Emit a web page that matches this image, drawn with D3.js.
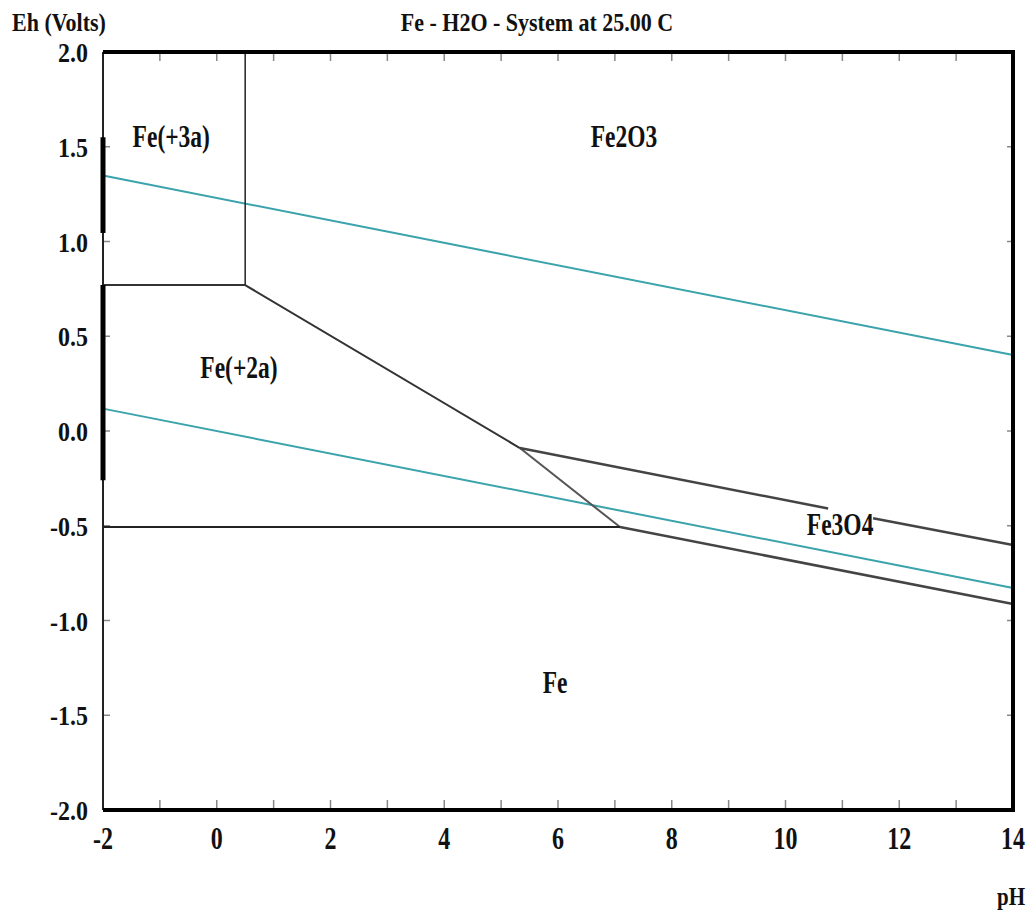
<!DOCTYPE html>
<html>
<head>
<meta charset="utf-8">
<script src="https://cdn.jsdelivr.net/npm/d3@7"></script>
<style>
  html, body { margin: 0; padding: 0; background: #fff; }
  text { font-family: "Liberation Serif", "Times New Roman", serif; font-weight: bold; fill: #111; }
</style>
</head>
<body>
<div id="chart"></div>
<script>
// axis ticks
var phTicks = [-2, 0, 2, 4, 6, 8, 10, 12, 14];
var phMinor = [-1, 0, 1, 2, 3, 4, 5, 6, 7, 8, 9, 10, 11, 12, 13];
var ehTicks = ["2.0", "1.5", "1.0", "0.5", "0.0", "-0.5", "-1.0", "-1.5", "-2.0"];

// water stability lines (pH, Eh)
var waterUpper = [[-2, 1.348], [14, 0.401]];
var waterLower = [[-2, 0.118], [14, -0.829]];

// phase boundaries (pH, Eh)
var fe3Fe2 = [[-2, 0.77], [0.5, 0.77]];
var fe3Fe2o3 = [[0.5, 0.77], [0.5, 2.0]];
var fe2Fe2o3 = [[0.5, 0.77], [5.33, -0.09]];
var fe2Fe3o4 = [[5.33, -0.09], [7.09, -0.507]];
var fe2Fe = [[-2, -0.507], [7.09, -0.507]];
var fe2o3Fe3o4a = [[5.33, -0.09], [10.75, -0.409]];
var fe2o3Fe3o4b = [[11.54, -0.46], [14, -0.602]];
var fe3o4Fe = [[7.09, -0.507], [14, -0.913]];

// heavy marks on the left axis (Eh ranges)
var axisBars = [[1.55, 1.045], [0.77, -0.26]];

// field labels
var fieldNames = ["Fe(+3a)", "Fe2O3", "Fe(+2a)", "Fe3O4", "Fe"];
var fieldPH = [-0.8, 7.16, 0.39, 10.96, 5.95];
var fieldEh = [1.5, 1.5, 0.28, -0.55, -1.38];

var W = 1032, H = 913;
var margin = { left: 103, right: 19, top: 52, bottom: 103 };
var w = W - margin.left - margin.right,
    h = H - margin.top - margin.bottom;

var svg = d3.select('#chart').append('svg')
    .attr('width', W)
    .attr('height', H);

var x = d3.scaleLinear().domain([-2, 14]).range([margin.left, margin.left + w]);
var y = d3.scaleLinear().domain([-2, 2]).range([margin.top + h, margin.top]);

var line = d3.line()
    .x(function (d) { return x(d[0]); })
    .y(function (d) { return y(d[1]); });

// minor ticks, inward
var tickG = svg.append('g').attr('stroke', '#888').attr('stroke-width', 1.5);
tickG.selectAll('.tb').data(phMinor).enter().append('line')
    .attr('x1', function (d) { return x(d); }).attr('x2', function (d) { return x(d); })
    .attr('y1', y(-2)).attr('y2', y(-2) - 10);
tickG.selectAll('.tt').data(phMinor).enter().append('line')
    .attr('x1', function (d) { return x(d); }).attr('x2', function (d) { return x(d); })
    .attr('y1', y(2)).attr('y2', y(2) + 9);
var ehInner = ehTicks.map(Number).filter(function (d) { return d > -2 && d < 2; });
tickG.selectAll('.tl').data(ehInner).enter().append('line')
    .attr('x1', x(-2)).attr('x2', x(-2) + 7)
    .attr('y1', function (d) { return y(d); }).attr('y2', function (d) { return y(d); });
tickG.selectAll('.tr').data(ehInner).enter().append('line')
    .attr('x1', x(14)).attr('x2', x(14) - 6)
    .attr('y1', function (d) { return y(d); }).attr('y2', function (d) { return y(d); });

// water lines
[waterUpper, waterLower].forEach(function (pts) {
    svg.append('path').datum(pts)
        .attr('d', line)
        .attr('fill', 'none')
        .attr('stroke', '#3aa3ab')
        .attr('stroke-width', 2);
});

// boundaries
var bounds = [
    { pts: fe3Fe2, c: '#333', w: 2 },
    { pts: fe3Fe2o3, c: '#222', w: 1.5 },
    { pts: fe2Fe2o3, c: '#333', w: 2 },
    { pts: fe2Fe3o4, c: '#555', w: 2 },
    { pts: fe2Fe, c: '#222', w: 2 },
    { pts: fe2o3Fe3o4a, c: '#444', w: 2.5 },
    { pts: fe2o3Fe3o4b, c: '#444', w: 2.5 },
    { pts: fe3o4Fe, c: '#444', w: 2.5 }
];
bounds.forEach(function (b) {
    svg.append('path').datum(b.pts)
        .attr('d', line)
        .attr('fill', 'none')
        .attr('stroke', b.c)
        .attr('stroke-width', b.w);
});

// frame
svg.append('line').attr('x1', x(-2)).attr('x2', x(-2)).attr('y1', y(2)).attr('y2', y(-2))
    .attr('stroke', '#222').attr('stroke-width', 2);
svg.append('path')
    .attr('d', 'M' + x(-2) + ',' + y(2) + 'H' + x(14) + 'V' + y(-2) + 'H' + x(-2))
    .attr('fill', 'none').attr('stroke', '#000').attr('stroke-width', 4);
svg.selectAll('.bar').data(axisBars).enter().append('line')
    .attr('x1', x(-2)).attr('x2', x(-2))
    .attr('y1', function (d) { return y(d[0]); })
    .attr('y2', function (d) { return y(d[1]); })
    .attr('stroke', '#000').attr('stroke-width', 5);

// tick labels
svg.selectAll('.xl').data(phTicks).enter().append('text')
    .attr('transform', function (d) { return 'translate(' + x(d) + ',' + (y(-2) + 39) + ') scale(1,1.3)'; })
    .attr('text-anchor', 'middle')
    .style('font-size', '24px')
    .text(function (d) { return d; });

svg.selectAll('.yl').data(ehTicks).enter().append('text')
    .attr('transform', function (d) { return 'translate(88,' + (y(+d) + 10) + ') scale(1,1.1)'; })
    .attr('text-anchor', 'end')
    .style('font-size', '24px')
    .text(function (d) { return d; });

// titles
svg.append('text')
    .attr('transform', 'translate(537,31) scale(1,1.1)')
    .attr('text-anchor', 'middle')
    .style('font-size', '22px')
    .text('Fe - H2O - System at 25.00 C');
svg.append('text')
    .attr('transform', 'translate(12,31) scale(1,1.15)')
    .style('font-size', '22px')
    .text('Eh (Volts)');
svg.append('text')
    .attr('transform', 'translate(1011,905) scale(1,1.2)')
    .attr('text-anchor', 'middle')
    .style('font-size', '21px')
    .text('pH');

// field labels
svg.selectAll('.fl').data(fieldNames).enter().append('text')
    .attr('transform', function (d, i) {
        return 'translate(' + x(fieldPH[i]) + ',' + y(fieldEh[i]) + ') scale(1,1.35)';
    })
    .attr('text-anchor', 'middle')
    .style('font-size', '23.5px')
    .text(function (d) { return d; });
</script>
</body>
</html>
